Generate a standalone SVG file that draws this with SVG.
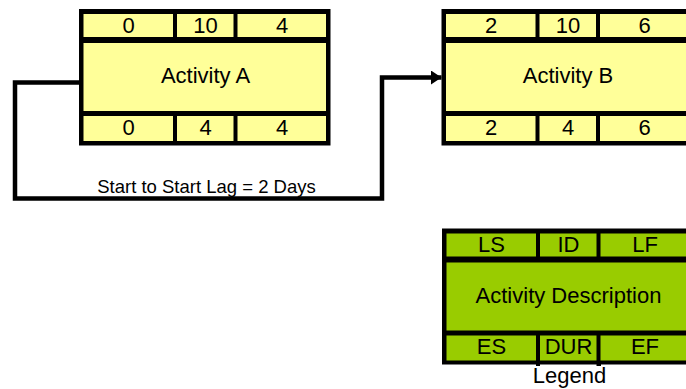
<svg xmlns="http://www.w3.org/2000/svg" width="686" height="389" viewBox="0 0 686 389">
  <style>
    .frame { fill: #000000; }
    .yellow { fill: #FFFF99; }
    .green { fill: #99CC00; }
    text { font-family: "Liberation Sans", Arial, sans-serif; fill: #000000; }
    .cell { font-size: 22px; text-anchor: middle; }
    .lag { font-size: 18.5px; text-anchor: middle; }
    .wire { fill: none; stroke: #000000; stroke-width: 4.5; stroke-linejoin: miter; }
  </style>
  <defs>
    <marker id="arrow" markerUnits="userSpaceOnUse" markerWidth="11" markerHeight="14" refX="10.5" refY="7" orient="auto">
      <path d="M0,0 L10.5,7 L0,14 Z" fill="#000000"/>
    </marker>
    <!-- Activity card: black frame with three rows of cells, drawn at origin -->
    <g id="card-cells">
      <rect x="4.5" y="5" width="89.5" height="23"/>
      <rect x="98" y="5" width="56.5" height="23"/>
      <rect x="158.5" y="5" width="88.5" height="23"/>
      <rect x="4.5" y="34" width="242.5" height="68"/>
      <rect x="4.5" y="107" width="89.5" height="25"/>
      <rect x="98" y="107" width="56.5" height="25"/>
      <rect x="158.5" y="107" width="88.5" height="25"/>
    </g>
  </defs>

  <!-- Activity A -->
  <g id="activity-a" transform="translate(79,9)">
    <rect class="frame" x="0" y="0" width="251.5" height="136.5"/>
    <use href="#card-cells" class="yellow"/>
    <text class="cell" x="49.5" y="24">0</text>
    <text class="cell" x="126.5" y="24">10</text>
    <text class="cell" x="203" y="24">4</text>
    <text class="cell" x="126.5" y="74">Activity A</text>
    <text class="cell" x="49.5" y="126">0</text>
    <text class="cell" x="126.5" y="126">4</text>
    <text class="cell" x="203" y="126">4</text>
  </g>

  <!-- Activity B -->
  <g id="activity-b" transform="translate(441.5,9)">
    <rect class="frame" x="0" y="0" width="251.5" height="136.5"/>
    <use href="#card-cells" class="yellow"/>
    <text class="cell" x="49.5" y="24">2</text>
    <text class="cell" x="126.5" y="24">10</text>
    <text class="cell" x="203" y="24">6</text>
    <text class="cell" x="126.5" y="74">Activity B</text>
    <text class="cell" x="49.5" y="126">2</text>
    <text class="cell" x="126.5" y="126">4</text>
    <text class="cell" x="203" y="126">6</text>
  </g>

  <!-- Legend card -->
  <g id="legend" transform="translate(442,228.5)">
    <rect class="frame" x="0" y="0" width="251.5" height="136"/>
    <rect class="frame" x="94" y="130" width="4" height="7.5"/>
    <rect class="frame" x="154.5" y="130" width="4.5" height="7.5"/>
    <use href="#card-cells" class="green"/>
    <text class="cell" x="49.5" y="23.5">LS</text>
    <text class="cell" x="126.5" y="23.5">ID</text>
    <text class="cell" x="203" y="23.5">LF</text>
    <text class="cell" x="126.5" y="74">Activity Description</text>
    <text class="cell" x="49.5" y="125">ES</text>
    <text class="cell" x="126.5" y="125">DUR</text>
    <text class="cell" x="203" y="125">EF</text>
    <text class="cell" x="127.5" y="154.8">Legend</text>
  </g>

  <!-- Start-to-start link A to B -->
  <g id="connectors">
    <path class="wire" d="M79,82.5 H15 V198.5 H382 V77.5 H441.5" marker-end="url(#arrow)"/>
    <text class="lag" x="206.5" y="193">Start to Start Lag = 2 Days</text>
  </g>
</svg>
